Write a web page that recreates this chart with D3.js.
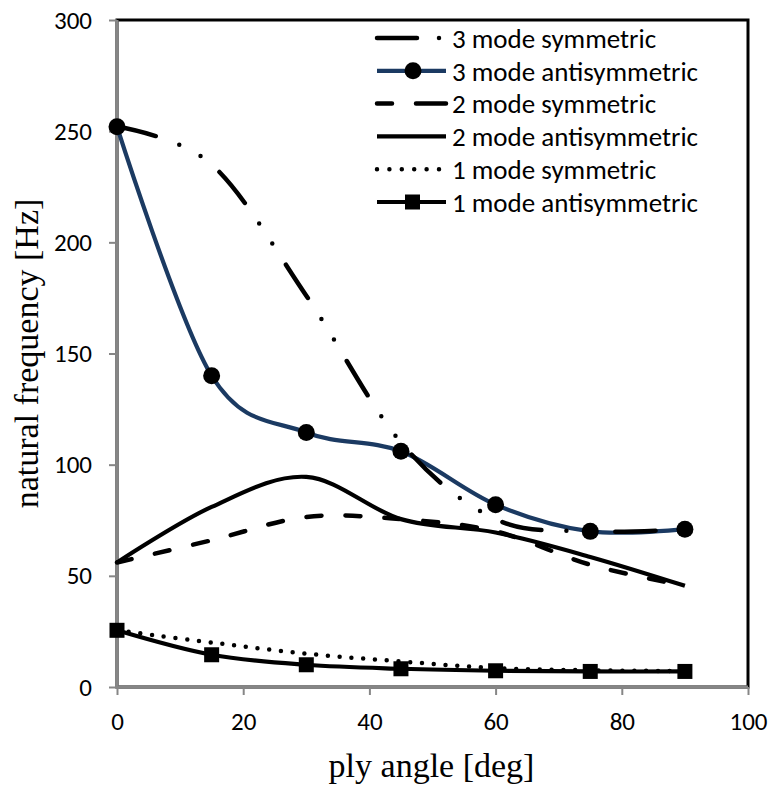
<!DOCTYPE html>
<html><head><meta charset="utf-8">
<script src="https://cdn.jsdelivr.net/npm/d3@7"></script>
<style>body{margin:0;background:#fff}</style>
</head><body><svg id="c" width="770" height="787"></svg>
<script>
const angles = [0, 15, 30, 45, 60, 75, 90];
const mode3Sym  = [252, 235, 176, 110, 75.5, 70, 71];
const mode3Anti = [252, 140, 114.5, 106, 82, 70, 71];
const mode2Sym  = [56, 66, 76.5, 75.5, 70, 55, 45.5];
const mode2Anti = [56, 81, 94.5, 75.5, 69.5, 58.5, 45.5];
const mode1Sym  = [25.5, 20, 15, 11.5, 8.5, 7.5, 7.2];
const mode1Anti = [25.5, 14.5, 10, 8.2, 7.3, 7, 7];
const seriesNames = ["3 mode symmetric", "3 mode antisymmetric", "2 mode symmetric",
                     "2 mode antisymmetric", "1 mode symmetric", "1 mode antisymmetric"];
const xTicks = [0, 20, 40, 60, 80, 100];
const yTicks = [0, 50, 100, 150, 200, 250, 300];
const xTitle = "ply angle [deg]";
const yTitle = "natural frequency [Hz]";

const NAVY = "#1b3a62";
const styles = [
  {values: mode3Sym,  color: "#000", width: 4.5, dash: "40 25 0 24 0 25", legDash: "40 22 0 30", marker: null},
  {values: mode3Anti, color: NAVY,   width: 4.2, dash: null, legDash: null, marker: "circle"},
  {values: mode2Sym,  color: "#000", width: 4.5, dash: "15 24", legDash: "15 24 30", marker: null},
  {values: mode2Anti, color: "#000", width: 4.2, dash: null, legDash: null, marker: null},
  {values: mode1Sym,  color: "#000", width: 4.5, dash: "0 11.8", legDash: "0 12.4", marker: null},
  {values: mode1Anti, color: "#000", width: 4.2, dash: null, legDash: null, marker: "square"}
];

const SANS = "Carlito, Lato, sans-serif";
const SERIF = "'Liberation Serif', 'Times New Roman', serif";

const svg = d3.select("#c");
const L = 117, R = 748, T = 20, B = 687;
const x = d3.scaleLinear().domain([0, 100]).range([L, R]);
const y = d3.scaleLinear().domain([0, 300]).range([B, T]);

// plot area border
svg.append("rect").attr("x", L).attr("y", T).attr("width", R - L).attr("height", B - T)
  .attr("fill", "none").attr("stroke", "#000").attr("stroke-width", 3);

// axes
const gx = svg.append("g").attr("transform", `translate(0,${B})`)
  .call(d3.axisBottom(x).tickValues(xTicks).tickSize(8).tickPadding(17));
const gy = svg.append("g").attr("transform", `translate(${L},0)`)
  .call(d3.axisLeft(y).tickValues(yTicks).tickSize(8).tickPadding(17));
[gx, gy].forEach(g => {
  g.select(".domain").attr("stroke", "#868686").attr("stroke-width", 3);
  g.selectAll(".tick line").attr("stroke", "#868686").attr("stroke-width", 2);
  g.selectAll(".tick text").attr("fill", "#000")
    .style("font-family", SANS).style("font-size", "25px");
});
gy.select(".domain").attr("d", `M0,${B + 2}V${T}`);
gx.select(".domain").attr("d", `M${L - 1},0H${R}`);

// titles
svg.append("text").attr("x", (L + R) / 2 - 1).attr("y", 777).attr("text-anchor", "middle")
  .style("font-family", SERIF).style("font-size", "34px")
  .text(xTitle);
svg.append("text").attr("transform", `translate(38,${(T + B) / 2}) rotate(-90)`)
  .attr("text-anchor", "middle")
  .style("font-family", SERIF).style("font-size", "34px")
  .text(yTitle);

const line = d3.line().x((d, i) => x(angles[i])).y(d => y(d)).curve(d3.curveCardinal);

const drawOrder = [5, 4, 3, 2, 1, 0];
drawOrder.forEach(k => {
  const s = styles[k];
  svg.append("path").datum(s.values).attr("d", line)
    .attr("fill", "none").attr("stroke", s.color).attr("stroke-width", s.width)
    .attr("stroke-linecap", s.dash ? "round" : "butt")
    .attr("stroke-linejoin", "round")
    .attr("stroke-dasharray", s.dash);
  if (s.marker === "circle") {
    svg.append("g").selectAll("circle").data(s.values).join("circle")
      .attr("cx", (d, i) => x(angles[i])).attr("cy", d => y(d)).attr("r", 8.5).attr("fill", "#000");
  } else if (s.marker === "square") {
    svg.append("g").selectAll("rect").data(s.values).join("rect")
      .attr("x", (d, i) => x(angles[i]) - 7.5).attr("y", d => y(d) - 7.5)
      .attr("width", 15).attr("height", 15).attr("fill", "#000");
  }
});

// legend
const ly = d3.scaleLinear().domain([0, 5]).range([38, 202]);
const lg = svg.append("g");
seriesNames.forEach((name, k) => {
  const s = styles[k];
  const yy = ly(k);
  lg.append("line").attr("x1", 377).attr("x2", 446).attr("y1", yy).attr("y2", yy)
    .attr("stroke", s.color).attr("stroke-width", s.width)
    .attr("stroke-linecap", s.legDash ? "round" : "butt")
    .attr("stroke-dasharray", s.legDash);
  if (s.marker === "circle") {
    lg.append("circle").attr("cx", 413).attr("cy", yy).attr("r", 8.5).attr("fill", "#000");
  } else if (s.marker === "square") {
    lg.append("rect").attr("x", 405).attr("y", yy - 7.5).attr("width", 15).attr("height", 15).attr("fill", "#000");
  }
  lg.append("text").attr("x", 452).attr("y", yy).attr("dy", "0.36em")
    .style("font-family", SANS).style("font-size", "27px")
    .text(name);
});
</script></body></html>
